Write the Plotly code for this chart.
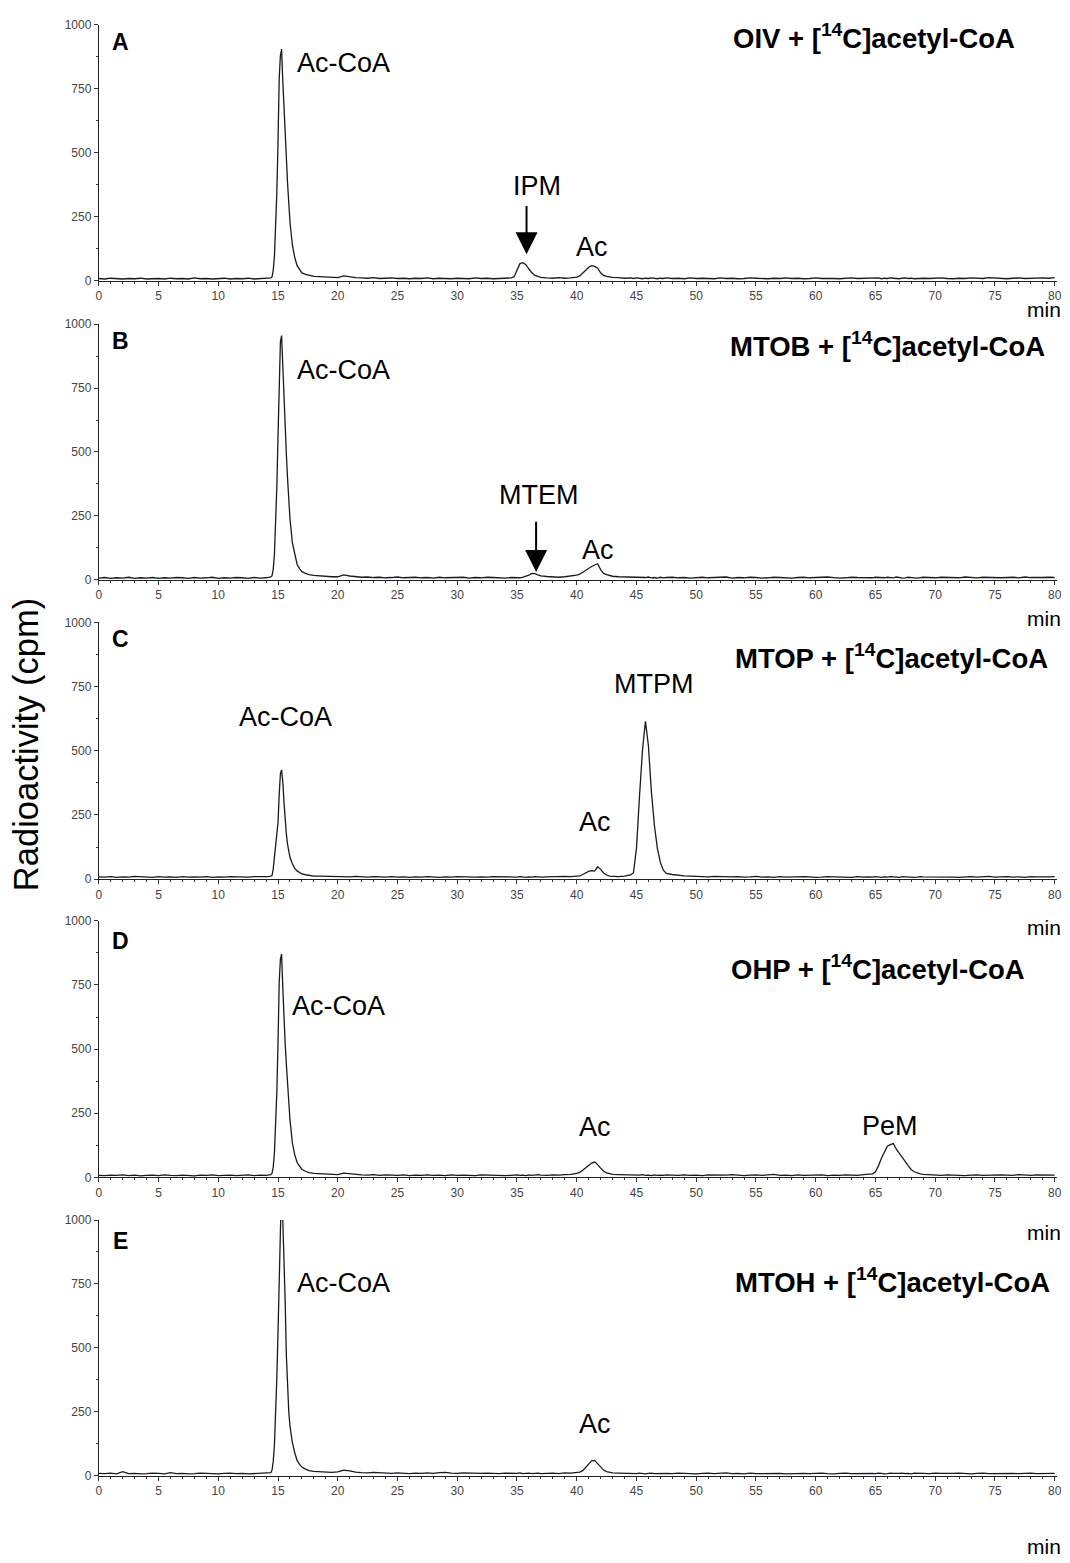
import plotly.graph_objects as go

# ---------------- data ----------------
time_min = [
    0, 0.5, 1, 1.5, 2, 2.5, 3, 3.5, 4, 4.5, 5, 5.5, 6, 6.5, 7, 7.5, 8, 8.5, 9, 9.5, 10, 10.5, 11, 11.5, 12, 12.5, 13, 13.5, 14,
    14.2, 14.4, 14.5, 14.6, 14.7, 14.8, 14.9, 15.0, 15.1, 15.2, 15.3, 15.4, 15.5, 15.6, 15.7, 15.8, 15.9, 16.0,
    16.2, 16.4, 16.6, 16.8, 17.0, 17.3, 17.6, 18.0,
    18.5, 19, 19.5, 20, 20.5, 21, 21.5, 22, 22.5, 23, 23.5, 24, 24.5, 25, 25.5, 26, 26.5, 27, 27.5, 28, 28.5, 29, 29.5, 30, 30.5, 31, 31.5, 32, 32.5, 33, 33.5, 34, 34.5,
    34.75, 35, 35.25, 35.5, 35.75, 36, 36.25, 36.5, 36.75, 37,
    37.5, 38, 38.5, 39, 39.5, 40,
    40.25, 40.5, 40.75, 41, 41.25, 41.5, 41.75, 42, 42.25, 42.5, 42.75, 43,
    43.5, 44, 44.5,
    44.75, 45, 45.25, 45.5, 45.75, 46, 46.25, 46.5, 46.75, 47, 47.25, 47.5,
    48, 48.5, 49, 49.5, 50, 50.5, 51, 51.5, 52, 52.5, 53, 53.5, 54, 54.5, 55, 55.5, 56, 56.5, 57, 57.5, 58, 58.5, 59, 59.5, 60, 60.5, 61, 61.5, 62, 62.5, 63, 63.5, 64, 64.5,
    64.75, 65, 65.25, 65.5, 65.75, 66, 66.25, 66.5, 66.75, 67, 67.25, 67.5, 67.75, 68, 68.25, 68.5, 68.75, 69,
    69.5, 70, 70.5, 71, 71.5, 72, 72.5, 73, 73.5, 74, 74.5, 75, 75.5, 76, 76.5, 77, 77.5, 78, 78.5, 79, 79.5, 80,
]

cpm_A = [
    8, 6, 9, 7, 6, 8, 7, 9, 6, 7, 8, 6, 9, 7, 8, 6, 10, 7, 8, 6, 7, 9, 6, 8, 7, 9, 6, 8, 9,
    8, 10, 14, 40, 95, 200, 340, 540, 790, 880, 905, 780, 660, 560, 480, 380, 300, 230,
    140, 90, 58, 42, 30, 24, 20, 16,
    15, 13, 12, 11, 18, 14, 11, 10, 9, 11, 8, 9, 10, 8, 9, 7, 9, 8, 10, 7, 9, 8, 7, 9, 8, 7, 10, 8, 9, 7, 8, 9, 10,
    14, 40, 66, 70, 62, 45, 30, 20, 15, 12,
    10, 9, 11, 9, 10, 13,
    18, 28, 40, 52, 58, 55, 48, 30, 20, 16, 13, 12,
    11, 9, 10,
    8, 10, 9, 7, 9, 8, 10, 8, 7, 9, 8, 10,
    8, 9, 7, 10, 8, 9, 8, 7, 10, 8, 9, 7, 8, 10, 9, 8, 7, 9, 8, 10, 8, 9, 7, 8, 10, 8, 9, 8, 7, 9, 10, 8, 9, 8,
    9, 8, 10, 7, 9, 8, 10, 9, 8, 7, 9, 10, 8, 9, 7, 8, 10, 9,
    8, 9, 10, 8, 7, 9, 8, 10, 9, 8, 11, 9, 8, 7, 9, 10, 8, 9, 8, 10, 9, 11,
]

cpm_B = [
    7, 9, 6, 8, 7, 10, 6, 8, 7, 9, 6, 8, 7, 9, 8, 6, 9, 7, 8, 10, 6, 8, 7, 9, 8, 6, 9, 7, 8,
    9, 11, 16, 42, 100, 210, 360, 560, 820, 930, 955, 820, 690, 580, 490, 395, 310, 240,
    145, 95, 60, 44, 32, 25, 20, 17,
    15, 14, 12, 12, 19, 15, 12, 10, 11, 9, 10, 8, 9, 11, 8, 9, 10, 8, 9, 7, 10, 8, 9, 8, 10, 7, 9, 8, 10, 9, 8, 7, 9,
    9, 10, 8, 11, 14, 18, 25, 24, 19, 15,
    13, 11, 10, 12, 14, 18,
    22, 30, 38, 45, 52, 58, 63, 40, 25, 20, 16, 14,
    12, 11, 10,
    9, 8, 10, 7, 9, 11, 8, 9, 7, 10, 8, 9,
    10, 8, 9, 7, 9, 10, 8, 9, 8, 11, 7, 9, 8, 10, 9, 7, 8, 10, 9, 8, 7, 9, 10, 8, 9, 8, 11, 9, 7, 8, 10, 9, 8, 9,
    8, 10, 9, 7, 8, 10, 9, 8, 11, 9, 7, 8, 10, 9, 8, 7, 9, 10,
    9, 8, 10, 9, 7, 8, 11, 9, 8, 10, 9, 7, 8, 9, 10, 8, 11, 9, 8, 9, 10, 9,
]

cpm_C = [
    9, 8, 10, 7, 9, 8, 11, 9, 8, 7, 10, 8, 9, 7, 10, 8, 9, 8, 10, 7, 9, 8, 10, 9, 7, 8, 10, 9, 8,
    10, 12, 14, 40, 85, 120, 150, 220, 330, 410, 425, 380, 300, 230, 175, 135, 105, 85,
    60, 42, 32, 25, 20, 17, 14, 12,
    12, 11, 10, 11, 10, 9, 11, 9, 8, 10, 9, 8, 10, 8, 9, 7, 9, 8, 10, 8, 7, 9, 8, 10, 9, 7, 8, 9, 8, 10, 9, 8, 9,
    9, 8, 10, 9, 7, 9, 8, 10, 9, 8,
    9, 10, 9, 11, 10, 12,
    13, 18, 25, 30, 33, 31, 48, 38, 24, 16, 12, 11,
    10, 12, 16,
    25, 120, 320, 500, 615, 520, 340, 210, 120, 65, 35, 22,
    18, 15, 13, 12, 11, 10, 9, 11, 10, 8, 9, 10, 8, 9, 11, 8, 9, 7, 10, 8, 9, 8, 10, 9, 7, 8, 10, 9, 8, 9, 7, 10, 8, 9,
    8, 10, 9, 7, 9, 8, 10, 9, 8, 7, 10, 9, 8, 9, 7, 8, 10, 9,
    9, 8, 10, 9, 8, 7, 9, 10, 8, 9, 11, 8, 9, 10, 8, 9, 7, 10, 9, 8, 9, 10,
]

cpm_D = [
    8, 7, 9, 8, 10, 7, 9, 6, 8, 9, 7, 10, 8, 7, 9, 8, 6, 9, 8, 10, 7, 8, 9, 7, 8, 10, 7, 9, 8,
    9, 11, 16, 40, 95, 195, 330, 520, 760, 850, 870, 740, 610, 520, 440, 360, 285, 225,
    135, 88, 58, 42, 31, 24, 19, 16,
    15, 13, 12, 11, 17, 14, 11, 10, 9, 11, 8, 10, 9, 8, 10, 7, 9, 8, 10, 8, 9, 7, 10, 8, 9, 8, 7, 10, 9, 8, 9, 7, 8,
    9, 10, 8, 9, 7, 10, 8, 9, 11, 9,
    8, 10, 9, 11, 12, 16,
    20, 28, 38, 48, 56, 60, 50, 36, 24, 18, 14, 12,
    11, 10, 9,
    10, 8, 9, 11, 8, 9, 7, 10, 8, 9, 8, 10,
    9, 8, 10, 8, 9, 7, 10, 9, 8, 9, 11, 8, 7, 9, 10, 8, 9, 12, 8, 9, 7, 10, 8, 9, 8, 10, 7, 9, 8, 10, 9, 8, 11, 12,
    14, 22, 45, 75, 100, 122, 128, 132, 110, 95, 78, 62, 45, 30, 22, 17, 14, 12,
    10, 9, 8, 10, 9, 8, 7, 9, 10, 8, 9, 8, 10, 9, 8, 11, 9, 8, 10, 9, 8, 9,
]

cpm_E = [
    9, 8, 10, 7, 16, 8, 9, 7, 8, 10, 9, 7, 12, 8, 9, 7, 8, 10, 9, 8, 7, 9, 10, 8, 9, 7, 8, 9, 10,
    9, 12, 22, 55, 120, 230, 380, 560, 760, 1050, 1150, 1000, 860, 680, 470, 350, 250, 195,
    130, 90, 60, 44, 34, 26, 20, 17,
    16, 14, 13, 15, 22, 19, 14, 12, 11, 13, 12, 10, 9, 11, 10, 8, 10, 9, 11, 9, 12, 13, 10, 9, 11, 10, 8, 9, 10, 9, 8, 10, 9,
    10, 9, 11, 8, 9, 10, 8, 9, 10, 8,
    9, 10, 8, 11, 10, 12,
    14, 20, 32, 48, 58, 60, 48, 32, 22, 16, 13, 11,
    10, 9, 10,
    9, 8, 10, 9, 7, 9, 10, 8, 9, 8, 10, 9,
    8, 10, 9, 8, 7, 9, 10, 8, 9, 11, 8, 9, 7, 10, 8, 9, 8, 10, 9, 7, 8, 10, 9, 8, 9, 10, 8, 7, 9, 10, 8, 9, 8, 10,
    9, 8, 10, 9, 7, 8, 10, 9, 8, 9, 10, 8, 9, 7, 10, 9, 8, 9,
    8, 10, 9, 8, 9, 10, 8, 7, 9, 10, 8, 9, 8, 10, 9, 8, 9, 10, 8, 9, 10, 9,
]

panel_letters = ["A", "B", "C", "D", "E"]
substrates = ["OIV", "MTOB", "MTOP", "OHP", "MTOH"]
y_ticks = [0, 250, 500, 750, 1000]
x_ticks = list(range(0, 81, 5))

# peak labels: (panel index, text, time, cpm)
peak_labels = [
    (0, "Ac-CoA", 20.5, 849), (0, "IPM", 36.7, 368), (0, "Ac", 41.3, 133),
    (1, "Ac-CoA", 20.5, 822), (1, "MTEM", 36.8, 332), (1, "Ac", 41.8, 115),
    (2, "Ac-CoA", 15.6, 631), (2, "Ac", 41.5, 221), (2, "MTPM", 46.4, 762),
    (3, "Ac-CoA", 20.1, 668), (3, "Ac", 41.5, 197), (3, "PeM", 66.2, 200),
    (4, "Ac-CoA", 20.5, 755), (4, "Ac", 41.5, 201),
]
# arrows: (panel, time, tail cpm, tip cpm)
arrows = [(0, 35.8, 297, 103), (1, 36.6, 233, 31)]

series = [cpm_A, cpm_B, cpm_C, cpm_D, cpm_E]
for s in series:
    assert len(s) == len(time_min), (len(s), len(time_min))

# ---------------- layout ----------------
W, H = 1070, 1563
FONT = "Liberation Sans, Arial, Helvetica, sans-serif"
panel_top_px = [18, 320, 621, 922, 1224]
panel_bot_px = [276, 578, 880, 1181, 1482]
title_px = [(733, 30), (730, 341), (736, 655), (731, 969), (735, 1285)]
letter_px = [(118, 35), (118, 337), (118, 638), (118, 942), (118, 1245)]
min_px = [305, 617, 929, 1237, 1553]
x_dom = [96.5 / W, 1062 / W]

def py(p):
    return 1 - p / H

fig = go.Figure()
layout = dict(
    width=W, height=H, margin=dict(l=0, r=0, t=0, b=0),
    paper_bgcolor="white", plot_bgcolor="white",
    showlegend=False, font=dict(family=FONT, color="black"),
)
annotations = []

for i, cpm in enumerate(series):
    sx = "" if i == 0 else str(i + 1)
    fig.add_trace(go.Scatter(
        x=time_min, y=cpm, mode="lines",
        line=dict(color="#1a1a1a", width=1.3),
        xaxis="x" + sx, yaxis="y" + sx, hoverinfo="skip",
    ))
    layout["xaxis" + sx] = dict(
        domain=x_dom, anchor="y" + sx, range=[0, 80.2],
        tickvals=x_ticks, ticks="outside", ticklen=4, tickwidth=1, tickcolor="#333",
        minor=dict(dtick=1, tick0=0, ticks="outside", ticklen=2, tickcolor="#333"),
        showline=True, linecolor="#222", linewidth=1,
        showgrid=False, zeroline=False,
        tickfont=dict(size=12, color="#444", family=FONT),
    )
    layout["yaxis" + sx] = dict(
        domain=[py(panel_bot_px[i]), py(panel_top_px[i])], anchor="x" + sx,
        range=[0, 1000], tickvals=y_ticks, ticks="outside", ticklen=4, tickwidth=1, tickcolor="#333",
        minor=dict(dtick=125, tick0=0, ticks="outside", ticklen=2, tickcolor="#333"),
        showline=True, linecolor="#222", linewidth=1,
        showgrid=False, zeroline=False,
        tickfont=dict(size=12, color="#444", family=FONT),
    )
    annotations.append(dict(
        xref="paper", yref="paper", x=letter_px[i][0] / W, y=py(letter_px[i][1]),
        text="<b>%s</b>" % panel_letters[i], showarrow=False,
        xanchor="center", yanchor="middle", font=dict(size=23, family=FONT),
    ))
    annotations.append(dict(
        xref="paper", yref="paper", x=title_px[i][0] / W, y=py(title_px[i][1]),
        text="<b>%s + [<sup>14</sup>C]acetyl-CoA</b>" % substrates[i], showarrow=False,
        xanchor="left", yanchor="middle", font=dict(size=27.5, family=FONT),
    ))
    annotations.append(dict(
        xref="paper", yref="paper", x=1068 / W, y=py(min_px[i]),
        text="min", showarrow=False, xanchor="right", yanchor="middle",
        font=dict(size=21, family=FONT),
    ))

for (i, txt, t, c) in peak_labels:
    sx = "" if i == 0 else str(i + 1)
    annotations.append(dict(
        xref="x" + sx, yref="y" + sx, x=t, y=c, text=txt, showarrow=False,
        xanchor="center", yanchor="middle", font=dict(size=27, family=FONT),
    ))

for (i, t, c_tail, c_tip) in arrows:
    sx = "" if i == 0 else str(i + 1)
    annotations.append(dict(
        xref="x" + sx, yref="y" + sx, x=t, y=c_tip,
        axref="x" + sx, ayref="y" + sx, ax=t, ay=c_tail,
        text="", showarrow=True, arrowhead=2, arrowsize=2.2, arrowwidth=2,
        arrowcolor="black", standoff=0,
    ))

annotations.append(dict(
    xref="paper", yref="paper", x=24 / W, y=py(744), text="Radioactivity (cpm)",
    showarrow=False, textangle=-90, xanchor="center", yanchor="middle",
    font=dict(size=34.5, family=FONT),
))

layout["annotations"] = annotations
fig.update_layout(**layout)
fig.write_html(
    "out.html",
    config={"displayModeBar": False, "staticPlot": True},
    post_script=(
        "document.documentElement.style.margin='0';"
        "document.body.style.margin='0';document.body.style.padding='0';"
        "document.body.style.overflow='hidden';"
        "var gd=document.getElementById('{plot_id}');"
        "gd.style.position='fixed';gd.style.top='0px';gd.style.left='0px';"
    ),
)
